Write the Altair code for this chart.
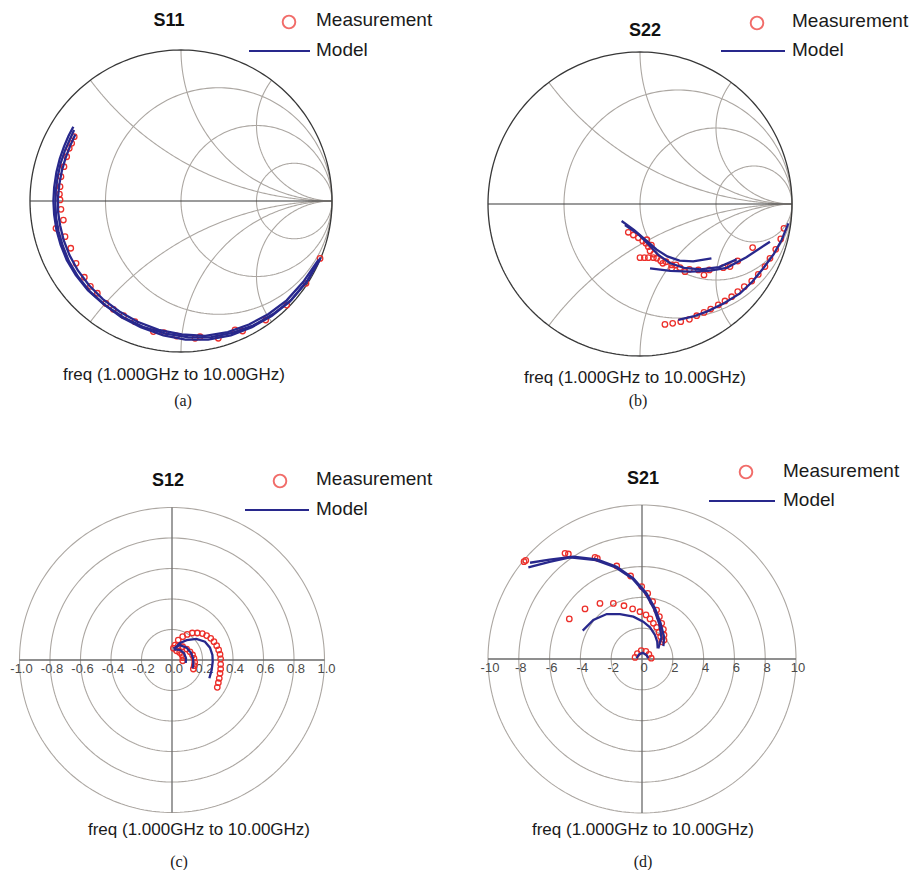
import altair as alt
import pandas as pd
import numpy as np

# ---------------- data ----------------
# S11 (reflection coefficient, Smith chart)
s11_meas = [(-0.707, 0.426), (-0.724, 0.382), (-0.740, 0.349), (-0.757, 0.293), (-0.775, 0.227),
            (-0.795, 0.161), (-0.801, 0.095), (-0.805, 0.045), (-0.801, 0.007), (-0.795, -0.055),
            (-0.828, -0.181), (-0.779, -0.126), (-0.768, -0.236), (-0.730, -0.313), (-0.695, -0.413),
            (-0.640, -0.505), (-0.600, -0.565), (-0.554, -0.611), (-0.497, -0.678), (-0.448, -0.717),
            (-0.380, -0.760), (-0.305, -0.799), (-0.183, -0.865), (-0.113, -0.872), (-0.029, -0.894),
            (0.093, -0.909), (0.126, -0.899), (0.247, -0.909), (0.358, -0.854), (0.408, -0.861),
            (0.561, -0.788), (0.700, -0.689), (0.828, -0.545), (0.921, -0.380)]
s11_model_1 = [(-0.713, 0.492), (-0.745, 0.43), (-0.775, 0.36), (-0.803, 0.28), (-0.825, 0.19),
               (-0.840, 0.09), (-0.845, 0.0), (-0.840, -0.09), (-0.825, -0.19), (-0.797, -0.29),
               (-0.757, -0.39), (-0.697, -0.49), (-0.617, -0.59), (-0.517, -0.68), (-0.397, -0.768),
               (-0.267, -0.835), (-0.117, -0.89), (0.03, -0.918), (0.18, -0.918), (0.33, -0.89),
               (0.47, -0.835), (0.60, -0.762), (0.72, -0.667), (0.83, -0.538), (0.92, -0.385)]
s11_model_2 = [(-0.708, 0.47), (-0.74, 0.40), (-0.77, 0.33), (-0.797, 0.25), (-0.817, 0.16),
               (-0.829, 0.07), (-0.832, -0.02), (-0.827, -0.11), (-0.811, -0.20), (-0.782, -0.30),
               (-0.742, -0.40), (-0.682, -0.50), (-0.602, -0.60), (-0.502, -0.69), (-0.382, -0.77),
               (-0.252, -0.833), (-0.102, -0.878), (0.05, -0.903), (0.20, -0.902), (0.34, -0.873),
               (0.48, -0.823), (0.61, -0.749), (0.73, -0.655), (0.84, -0.525), (0.925, -0.375)]
s11_model_3 = [(-0.70, 0.44), (-0.732, 0.37), (-0.763, 0.29), (-0.789, 0.20), (-0.806, 0.11),
               (-0.815, 0.02), (-0.814, -0.07), (-0.801, -0.16), (-0.777, -0.26), (-0.738, -0.36),
               (-0.683, -0.46), (-0.608, -0.56), (-0.518, -0.65), (-0.408, -0.732), (-0.288, -0.80),
               (-0.148, -0.853), (0.005, -0.884), (0.16, -0.893), (0.31, -0.868), (0.45, -0.818),
               (0.58, -0.748), (0.70, -0.658), (0.81, -0.535), (0.91, -0.39)]

# S22 (Smith chart)
s22_meas = [(-0.077, -0.186), (-0.044, -0.204), (-0.011, -0.222), (0.018, -0.243), (0.039, -0.259),
            (0.055, -0.281), (0.066, -0.309), (0.045, -0.235), (0.075, -0.27), (0.09, -0.33),
            (0.0, -0.353), (0.029, -0.353), (0.055, -0.353), (0.088, -0.353), (0.110, -0.357),
            (0.136, -0.373), (0.171, -0.380), (0.150, -0.39), (0.208, -0.401), (0.208, -0.423),
            (0.237, -0.401), (0.263, -0.419), (0.296, -0.445), (0.325, -0.430), (0.384, -0.434),
            (0.421, -0.467), (0.456, -0.434), (0.548, -0.419), (0.592, -0.412), (0.643, -0.375),
            (0.741, -0.287),
            (0.164, -0.792), (0.215, -0.785), (0.268, -0.774), (0.325, -0.759), (0.373, -0.735),
            (0.421, -0.713), (0.465, -0.691), (0.515, -0.664), (0.559, -0.638), (0.603, -0.610),
            (0.643, -0.577), (0.686, -0.544), (0.735, -0.507), (0.778, -0.463), (0.822, -0.412),
            (0.855, -0.357), (0.893, -0.298), (0.926, -0.230), (0.947, -0.160)]
s22_model_1 = [(-0.121, -0.112), (-0.04, -0.17), (0.04, -0.24), (0.11, -0.30), (0.18, -0.345),
               (0.26, -0.372), (0.35, -0.378), (0.47, -0.357)]
s22_model_2 = [(-0.099, -0.138), (-0.01, -0.20), (0.06, -0.27), (0.12, -0.335), (0.20, -0.39),
               (0.29, -0.42), (0.40, -0.43), (0.52, -0.415), (0.636, -0.364)]
s22_model_3 = [(0.066, -0.423), (0.20, -0.44), (0.33, -0.445), (0.45, -0.44), (0.57, -0.42),
               (0.70, -0.35), (0.855, -0.248)]
s22_model_4 = [(0.252, -0.763), (0.35, -0.74), (0.439, -0.708), (0.55, -0.655), (0.658, -0.588),
               (0.74, -0.51), (0.811, -0.423), (0.88, -0.33), (0.932, -0.237), (0.976, -0.127)]

# S12 (polar, linear magnitude)
s12_meas = [(0.020, 0.098), (0.041, 0.131), (0.070, 0.153), (0.100, 0.168), (0.133, 0.177),
            (0.166, 0.177), (0.199, 0.173), (0.227, 0.160), (0.254, 0.142), (0.275, 0.120),
            (0.293, 0.094), (0.306, 0.066), (0.315, 0.037), (0.319, 0.007), (0.319, -0.028),
            (0.319, -0.059), (0.315, -0.087), (0.310, -0.120), (0.304, -0.149), (0.297, -0.179),
            (0.009, 0.077), (0.041, 0.094), (0.070, 0.087), (0.096, 0.072), (0.118, 0.054),
            (0.135, 0.033), (0.144, 0.011), (0.149, -0.015), (0.146, -0.037), (0.140, -0.059),
            (0.030, 0.060), (0.050, 0.050), (0.065, 0.035), (0.072, 0.015), (0.070, -0.005)]
s12_model_1 = [(0.015, 0.07), (0.05, 0.11), (0.096, 0.13), (0.16, 0.138), (0.216, 0.12),
               (0.249, 0.081), (0.265, 0.033), (0.267, -0.011), (0.26, -0.066), (0.245, -0.12)]
s12_model_2 = [(0.01, 0.075), (0.052, 0.098), (0.096, 0.081), (0.125, 0.047), (0.138, 0.011),
               (0.14, -0.022), (0.135, -0.055)]
s12_model_3 = [(0.011, 0.07), (0.052, 0.066), (0.079, 0.044), (0.092, 0.011), (0.09, -0.02)]

# S21 (polar, linear magnitude)
s21_meas = [(-7.66, 6.32), (-7.55, 6.40), (-5.0, 6.86), (-4.78, 6.82), (-3.05, 6.60), (-2.90, 6.54),
            (-1.64, 6.04), (-0.74, 5.39), (-0.02, 4.70), (0.37, 4.26), (0.69, 3.72), (0.95, 3.18),
            (1.13, 2.75), (1.28, 2.32), (1.39, 1.93), (1.43, 1.56), (1.43, 1.23),
            (-4.72, 2.60), (-3.70, 3.25), (-2.73, 3.61), (-1.86, 3.61), (-1.17, 3.46), (-0.61, 3.25),
            (-0.13, 3.07), (0.26, 2.86), (0.52, 2.60), (0.74, 2.32), (0.95, 2.06), (1.10, 1.73),
            (1.21, 1.45), (1.28, 1.12),
            (-0.45, 0.10), (-0.30, 0.35), (-0.05, 0.55), (0.25, 0.50), (0.45, 0.30), (0.60, 0.05)]
s21_model_1 = [(-7.27, 6.25), (-6.0, 6.45), (-4.46, 6.64), (-2.94, 6.47), (-1.64, 5.99), (-0.56, 5.24),
               (0.30, 4.26), (0.84, 3.29), (1.21, 2.32), (1.43, 1.45), (1.39, 0.84)]
s21_model_2 = [(-7.38, 5.95), (-6.0, 6.3), (-4.68, 6.60), (-3.0, 6.42), (-1.7, 5.94), (-0.6, 5.2),
               (0.25, 4.22), (0.78, 3.25), (1.12, 2.28), (1.26, 1.40), (1.06, 0.69)]
s21_model_3 = [(-3.85, 1.84), (-3.16, 2.53), (-2.29, 2.92), (-1.43, 2.92), (-0.56, 2.75), (0.08, 2.42),
               (0.52, 2.06), (0.84, 1.56), (0.99, 1.12), (1.02, 0.69)]
s21_model_4 = [(-0.35, 0.05), (-0.2, 0.30), (0.05, 0.40), (0.3, 0.25), (0.4, 0.05)]

# grid definitions
smith_r = [1 / 3, 1, 3]
smith_x = [0.5, 1, 2, -0.5, -1, -2]
s12_rings = [0.2, 0.4, 0.6, 0.8, 1.0]
s12_ticks = [-1.0, -0.8, -0.6, -0.4, -0.2, 0.0, 0.2, 0.4, 0.6, 0.8, 1.0]
s21_rings = [2, 4, 6, 8, 10]
s21_ticks = [-10, -8, -6, -4, -2, 0, 2, 4, 6, 8, 10]

titles = ["S11", "S22", "S12", "S21"]
freq_text = "freq (1.000GHz to 10.00GHz)"
sub_labels = ["(a)", "(b)", "(c)", "(d)"]
legend_labels = ["Measurement", "Model"]

# ---------------- styling ----------------
RED = "#ec2f2a"
NAVY = "#28288c"
GRID = "#aca7a2"
DARK = "#383838"
AXIS = "#6a6a6a"
FONT = "Liberation Sans"


def curves_df(curves):
    rows = []
    for g, pts in enumerate(curves):
        for o, (x, y) in enumerate(pts):
            rows.append({"g": g, "o": o, "x": x, "y": y})
    return pd.DataFrame(rows)


def circle_pts(cx, cy, rad, n=241):
    t = np.linspace(0, 2 * np.pi, n)
    return list(zip(cx + rad * np.cos(t), cy + rad * np.sin(t)))


def smith_grid():
    curves = []
    for r in smith_r:
        curves.append(circle_pts(r / (1 + r), 0.0, 1 / (1 + r)))
    rs = np.concatenate([[0.0], np.logspace(-3, 3.5, 400)])
    for xv in smith_x:
        z = rs + 1j * xv
        g = (z - 1) / (z + 1)
        curves.append(list(zip(g.real, g.imag)))
    return curves


def enc(xdom, ydom):
    return dict(
        x=alt.X("x:Q", scale=alt.Scale(domain=xdom, nice=False, zero=False), axis=None),
        y=alt.Y("y:Q", scale=alt.Scale(domain=ydom, nice=False, zero=False), axis=None),
    )


def lines(curves, xdom, ydom, color, width):
    return alt.Chart(curves_df(curves)).mark_line(color=color, strokeWidth=width).encode(
        detail="g:N", order="o:Q", **enc(xdom, ydom))


def points(pts, xdom, ydom):
    df = pd.DataFrame(pts, columns=["x", "y"])
    return alt.Chart(df).mark_point(shape="circle", filled=False, color=RED, size=30,
                                    strokeWidth=1.3, opacity=1).encode(**enc(xdom, ydom))


def text_at(txt, px, py, size, bold=False, align="center", font=FONT, color="#1a1a1a"):
    return alt.Chart(pd.DataFrame({"t": [txt]})).mark_text(
        align=align, baseline="middle", fontSize=size, font=font,
        fontWeight="bold" if bold else "normal", color=color).encode(
        x=alt.value(px), y=alt.value(py), text="t:N")


def legend(cx, cy, lx1, lx2, ly, tx, ty_m, ty_l):
    one = pd.DataFrame({"a": [0]})
    mk = alt.Chart(one).mark_point(shape="circle", filled=False, color=RED, size=160,
                                   strokeWidth=1.9).encode(x=alt.value(cx), y=alt.value(cy))
    ln = alt.Chart(one).mark_rule(color=NAVY, strokeWidth=2).encode(
        x=alt.value(lx1), x2=alt.value(lx2), y=alt.value(ly))
    return [mk, ln,
            text_at(legend_labels[0], tx, ty_m, 19, align="left"),
            text_at(legend_labels[1], tx, ty_l, 19, align="left")]


def smith_panel(i, meas, models, W, H, cx, cy, R, title_xy, leg, freq_xy, sub_xy):
    xdom = [-cx / R, (W - cx) / R]
    ydom = [-(H - cy) / R, cy / R]
    layers = [
        lines(smith_grid(), xdom, ydom, GRID, 1.1),
        lines([circle_pts(0, 0, 1.0)], xdom, ydom, DARK, 1.3),
        lines([[(-1.0, 0.0), (1.0, 0.0)]], xdom, ydom, DARK, 1.2),
        points(meas, xdom, ydom),
        lines(models, xdom, ydom, NAVY, 2.3),
        text_at(titles[i], title_xy[0], title_xy[1], 18, bold=True, color="#111"),
        text_at(freq_text, freq_xy[0], freq_xy[1], 17),
        text_at(sub_labels[i], sub_xy[0], sub_xy[1], 16, font="Liberation Serif"),
    ] + legend(*leg)
    return alt.layer(*layers).properties(width=W, height=H)


def polar_panel(i, meas, models, rings, ticks, tick_fmt, W, H, cx, cy, R, title_xy, leg, freq_xy, sub_xy):
    unit = R / rings[-1]
    xdom = [-cx / unit, (W - cx) / unit]
    ydom = [-(H - cy) / unit, cy / unit]
    rmax = rings[-1]
    tdf = pd.DataFrame({"x": ticks, "y": [0.0] * len(ticks), "lab": [tick_fmt(t) for t in ticks]})
    tick_layer = alt.Chart(tdf).mark_text(dy=9, dx=2, fontSize=13, font=FONT, color="#4a4a4a").encode(
        text="lab:N", **enc(xdom, ydom))
    layers = [
        lines([circle_pts(0, 0, r) for r in rings], xdom, ydom, GRID, 1.1),
        lines([[(-rmax, 0.0), (rmax, 0.0)], [(0.0, -rmax), (0.0, rmax)]], xdom, ydom, AXIS, 1.3),
        tick_layer,
        points(meas, xdom, ydom),
        lines(models, xdom, ydom, NAVY, 2.3),
        text_at(titles[i], title_xy[0], title_xy[1], 18, bold=True, color="#111"),
        text_at(freq_text, freq_xy[0], freq_xy[1], 17),
        text_at(sub_labels[i], sub_xy[0], sub_xy[1], 16, font="Liberation Serif"),
    ] + legend(*leg)
    return alt.layer(*layers).properties(width=W, height=H)


W1, W2 = 455, 448
H1, H2 = 425, 436

pa = smith_panel(0, s11_meas, [s11_model_1, s11_model_2, s11_model_3], W1, H1, 173, 193, 151,
                 (161, 13), (281, 14, 241, 302, 43, 308, 12, 42), (166, 367), (175, 393))
pb = smith_panel(1, s22_meas, [s22_model_1, s22_model_2, s22_model_3, s22_model_4], W2, H1, 177, 196, 152,
                 (182, 23), (294, 15, 258, 322, 43, 329, 13, 42), (172, 370), (175, 393))
pc = polar_panel(2, s12_meas, [s12_model_1, s12_model_2, s12_model_3], s12_rings, s12_ticks,
                 lambda t: f"{t:.1f}", W1, H2, 164, 227, 152.5,
                 (160, 48), (272, 48, 237, 301, 77, 308, 46, 76), (191, 397), (171, 429))
pd_ = polar_panel(3, s21_meas, [s21_model_1, s21_model_2, s21_model_3, s21_model_4], s21_rings, s21_ticks,
                  lambda t: f"{t:d}", W2, H2, 179, 226, 154,
                  (180, 46), (283, 39, 246, 312, 68, 320, 38, 67), (180, 397), (180, 429))

chart = alt.vconcat(
    alt.hconcat(pa, pb, spacing=0),
    alt.hconcat(pc, pd_, spacing=0),
    spacing=0,
).properties(padding=0).configure_view(stroke=None)

chart.save("out.html", embed_options={"renderer": "svg", "actions": False})
